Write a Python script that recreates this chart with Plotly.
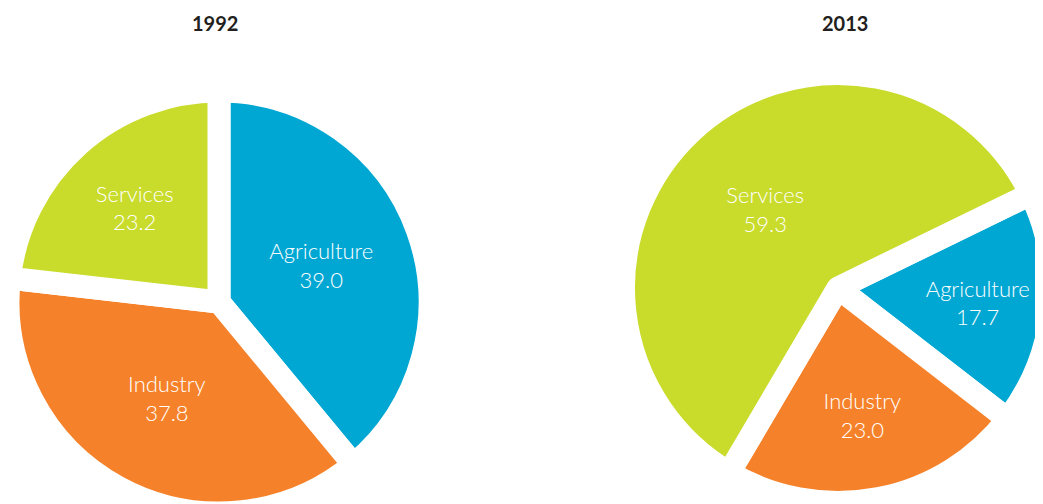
import plotly.graph_objects as go

# ---- data ----
sectors = ["Agriculture", "Industry", "Services"]
shares_1992 = [39.0, 37.8, 23.2]
shares_2013 = [17.7, 23.0, 59.3]
years = ["1992", "2013"]
colors = ["#00A7D3", "#F5822A", "#C9DB2B"]

# figure is a little larger than the window so the pies can run off the edges
W, H = 1052, 512
BG = "#FFFFFF"

# pie domains in pixels of the figure (left, top, right, bottom)
dom_px = [(0, 83, 422, 505), (615.5, 65.5, 1044.5, 494.5)]
rotations = [0, 64]
title_x_px = [207, 837]
title_y_px = 15


def to_domain(box):
    l, t, r, b = box
    return dict(x=[l / W, r / W], y=[1 - b / H, 1 - t / H])


fig = go.Figure()
for shares, box, rot in zip([shares_1992, shares_2013], dom_px, rotations):
    fig.add_trace(go.Pie(
        labels=sectors,
        values=shares,
        sort=False,
        direction="clockwise",
        rotation=rot,
        domain=to_domain(box),
        marker=dict(colors=colors, line=dict(color=BG, width=23)),
        texttemplate="%{label}<br>%{value:.1f}",
        textposition="inside",
        insidetextorientation="horizontal",
        insidetextfont=dict(family="Lato", size=22, color="white", weight=300),
        hoverinfo="label+value",
        showlegend=False,
    ))

annotations = []
for year, tx in zip(years, title_x_px):
    annotations.append(dict(
        text=f"<b>{year}</b>", x=tx / W, y=1 - title_y_px / H,
        xref="paper", yref="paper",
        showarrow=False, xanchor="center", yanchor="middle",
        font=dict(family="Lato", size=20, color="#231F20"),
    ))

fig.update_layout(
    width=W, height=H,
    margin=dict(l=0, r=0, t=0, b=0),
    paper_bgcolor=BG, plot_bgcolor=BG,
    annotations=annotations,
)

fig.write_html("out.html")
